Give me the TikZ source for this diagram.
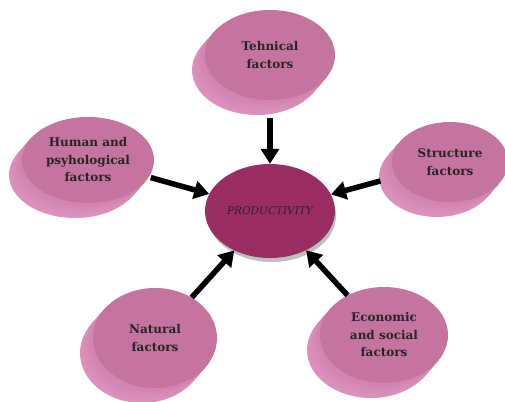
\documentclass[tikz,border=0pt]{standalone}
\usepackage{fontspec}
\setmainfont{DejaVu Serif}
\usetikzlibrary{shapes.geometric,arrows.meta,calc}
\definecolor{faceC}{HTML}{C4749E}
\definecolor{sideC}{HTML}{D283B0}
\definecolor{sideL}{HTML}{E29DC6}
\definecolor{prodC}{HTML}{9A2D62}
\tikzset{
  disk/.style={ellipse, inner sep=0pt, fill=faceC, align=center,
    font=\fontsize{12}{17.5}\selectfont\bfseries, text=black!85},
  hub/.style={ellipse, inner sep=0pt, fill=prodC, minimum width=130pt, minimum height=94pt,
    font=\fontsize{10.5}{12}\selectfont\itshape, text=black!85},
  arr/.style={line width=5.5pt, -{Triangle[length=15pt,width=18pt]}, black}
}
\newcommand\mydisk[7]{%
  \foreach \t in {1,0.95,...,0.04}{
    \pgfmathsetmacro\mix{100-60*\t}
    \fill[sideC!\mix!sideL] ($(#2,#3)+\t*(-13,15)$) ellipse ({#4} and {#5});
  }
  \node[disk, minimum width=2*#4 pt, minimum height=2*#5 pt] (#1) at (#2,#3) {#6};
}
\begin{document}
\begin{tikzpicture}[x=1pt,y=-1pt]
\useasboundingbox (0,0) rectangle (505,401);
\mydisk{tech}{270}{55}{65}{45}{Tehnical\\factors}{}
\mydisk{human}{88}{160}{66}{43}{Human and\\psyhological\\factors}{}
\mydisk{struct}{450}{162}{58}{40}{Structure\\factors}{}
\mydisk{nat}{155}{338}{62}{50}{Natural\\factors}{}
\mydisk{econ}{384}{335}{64}{48}{Economic\\and social\\factors}{}
\fill[black!25] (272,216) ellipse (64 and 46);
\node[hub] (prod) at (270,211) {PRODUCTIVITY};
\draw[arr, shorten <=18pt] (tech) -- (prod);
\draw[arr, shorten <=2pt] (human) -- (prod);
\draw[arr, shorten <=16pt] (struct) -- (prod);
\draw[arr] (nat) -- (prod);
\draw[arr] (econ) -- (prod);
\end{tikzpicture}
\end{document}
